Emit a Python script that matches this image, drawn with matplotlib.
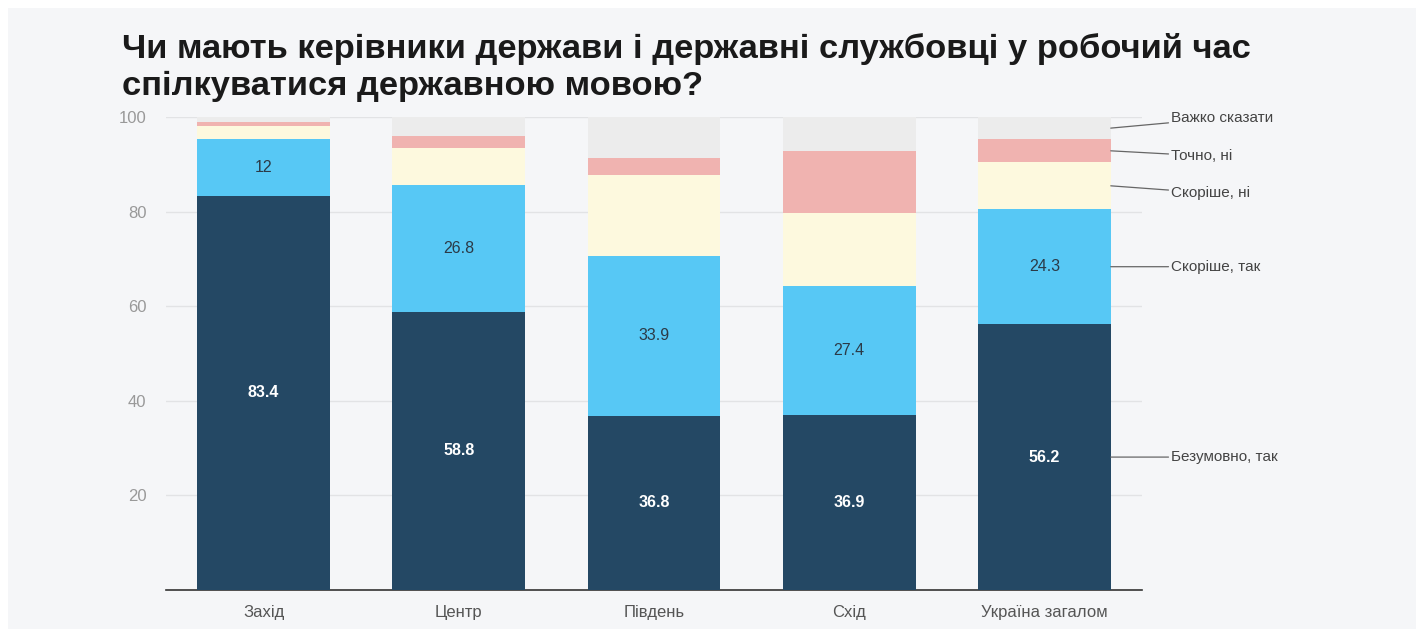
import matplotlib.pyplot as plt
import matplotlib.patches as patches
import numpy as np

plt.rcParams['font.family'] = ['Liberation Sans', 'DejaVu Sans']

# дані
regions = ['Захід', 'Центр', 'Південь', 'Схід', 'Україна загалом']
series_names = ['Безумовно, так', 'Скоріше, так', 'Скоріше, ні', 'Точно, ні', 'Важко сказати']
certainly_yes = [83.4, 58.8, 36.8, 36.9, 56.2]
rather_yes = [12, 26.8, 33.9, 27.4, 24.3]
rather_no = [2.8, 7.8, 17.1, 15.4, 9.9]
certainly_no = [0.7, 2.6, 3.5, 13.1, 4.9]
hard_to_say = [1.1, 4.0, 8.7, 7.2, 4.7]
yticks = [20, 40, 60, 80, 100]

colors = ['#244864', '#57c8f5', '#fdf9de', '#f0b3b0', '#ececec']
title = 'Чи мають керівники держави і державні службовці у робочий час\nспілкуватися державною мовою?'

fig = plt.figure(figsize=(14.24, 6.29), dpi=100)
fig.patch.set_facecolor('white')
# світло-сіра панель
fig.add_artist(patches.Rectangle((8 / 1424, 0), 1408 / 1424, 621 / 629,
                                 transform=fig.transFigure, facecolor='#f5f6f8',
                                 edgecolor='none', zorder=0))

ax = fig.add_axes([166 / 1424, 39 / 629, 976 / 1424, 473 / 629])
ax.set_facecolor('none')

x = np.arange(len(regions))
width = 0.68
series = [certainly_yes, rather_yes, rather_no, certainly_no, hard_to_say]
bottom = np.zeros(len(regions))
for vals, c in zip(series, colors):
    ax.bar(x, vals, width, bottom=bottom, color=c, zorder=3)
    bottom += np.array(vals)

# підписи значень
for i in range(len(regions)):
    ax.text(x[i], certainly_yes[i] / 2, f'{certainly_yes[i]:g}', ha='center', va='center',
            color='white', fontsize=11.5, fontweight='bold', zorder=4)
    ax.text(x[i], certainly_yes[i] + rather_yes[i] / 2, f'{rather_yes[i]:g}', ha='center',
            va='center', color='#2b3a47', fontsize=11.5, zorder=4)

ax.set_xlim(-0.5, 4.5)
ax.set_ylim(0, 100)
ax.set_yticks(yticks)
ax.set_yticklabels([str(t) for t in yticks], color='#999999', fontsize=12)
ax.yaxis.grid(True, color='#e2e3e5', linewidth=1, zorder=0)
ax.tick_params(axis='y', length=0, pad=14)
ax.set_xticks(x)
ax.set_xticklabels(regions, color='#555555', fontsize=12)
ax.tick_params(axis='x', length=0, pad=11)
for s in ['top', 'right', 'left']:
    ax.spines[s].set_visible(False)
ax.spines['bottom'].set_color('#333333')
ax.spines['bottom'].set_linewidth(1.2)

# легенда справа з лініями
last = len(regions) - 1
cum = np.cumsum([s[last] for s in series])
mids = cum - np.array([s[last] for s in series]) / 2
label_y = [mids[0], mids[1], 83.9, 91.8, 99.8]
edge = x[last] + width / 2
for name, m, ly in zip(series_names, mids, label_y):
    ax.annotate(name, xy=(edge, m), xytext=(edge + 0.31, ly), textcoords='data',
                va='center', ha='left', fontsize=11, color='#444444',
                arrowprops=dict(arrowstyle='-', color='#666666', lw=0.9,
                                shrinkA=0, shrinkB=0), annotation_clip=False)

fig.text(122 / 1424, 1 - 33 / 629, title, fontsize=24.8, fontweight='bold',
         color='#1a1a1a', va='top', ha='left', linespacing=1.25)

fig.savefig('out.png', dpi=100)
